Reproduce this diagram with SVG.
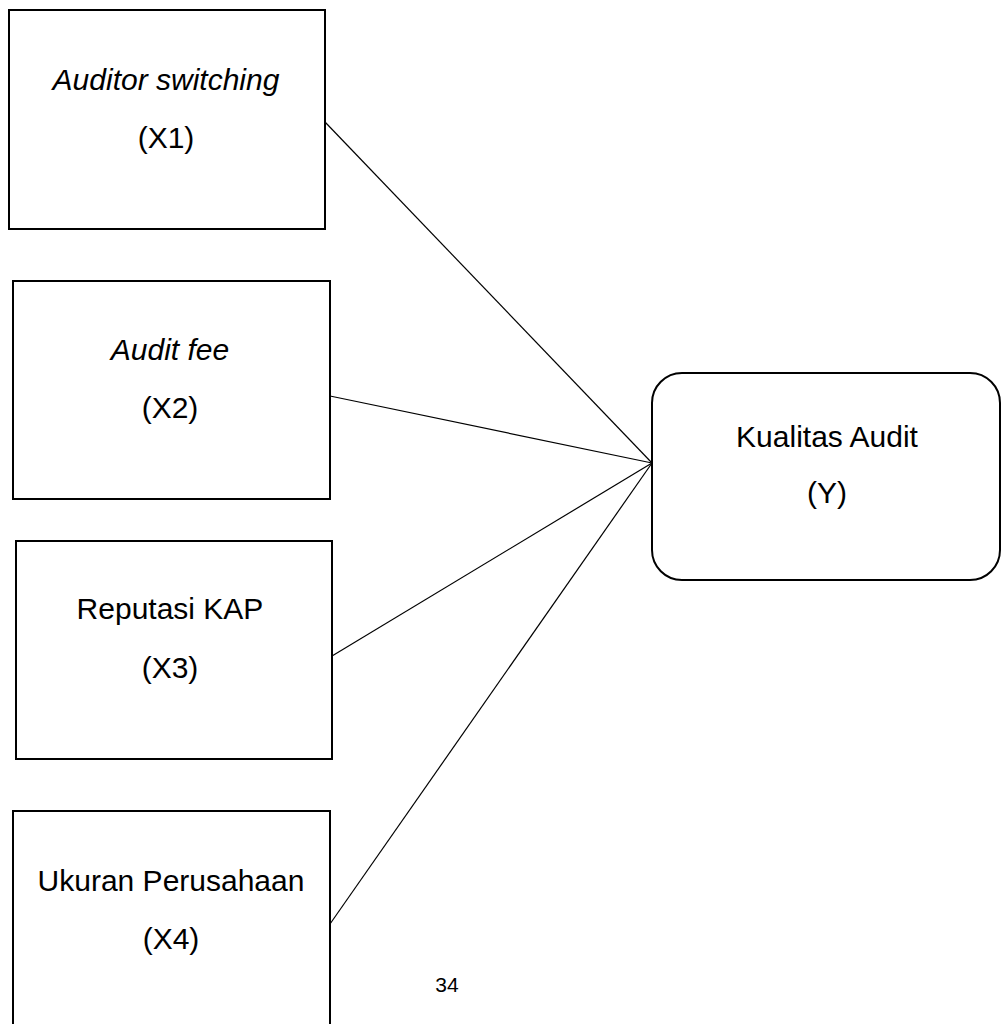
<svg xmlns="http://www.w3.org/2000/svg" width="1002" height="1024" viewBox="0 0 1002 1024">
<style>
.box{fill:#fff;stroke:#000;stroke-width:2}
.t{font-family:"Liberation Sans",Arial,sans-serif;font-size:30px;fill:#000;text-anchor:middle}
.i{font-style:italic}
.c{stroke:#000;stroke-width:1.2;fill:none}
</style>
<rect width="1002" height="1024" fill="#fff"/>
<g id="connectors">
<line class="c" x1="325" y1="122" x2="652" y2="463"/>
<line class="c" x1="330" y1="396" x2="652" y2="463"/>
<line class="c" x1="332" y1="656" x2="652" y2="463"/>
<line class="c" x1="330" y1="924" x2="652" y2="463"/>
</g>
<g id="x1">
<rect class="box" x="9" y="10" width="316" height="219"/>
<text class="t i" x="166" y="90">Auditor switching</text>
<text class="t" x="166" y="148">(X1)</text>
</g>
<g id="x2">
<rect class="box" x="13" y="281" width="317" height="218"/>
<text class="t i" x="170" y="360">Audit fee</text>
<text class="t" x="170" y="418">(X2)</text>
</g>
<g id="x3">
<rect class="box" x="16" y="541" width="316" height="218"/>
<text class="t" x="170" y="619">Reputasi KAP</text>
<text class="t" x="170" y="678">(X3)</text>
</g>
<g id="x4">
<rect class="box" x="13" y="811" width="317" height="225"/>
<text class="t" x="171" y="891">Ukuran Perusahaan</text>
<text class="t" x="171" y="949">(X4)</text>
</g>
<g id="y">
<rect class="box" x="652" y="373" width="348" height="207" rx="30" ry="30"/>
<text class="t" x="827" y="447">Kualitas Audit</text>
<text class="t" x="827" y="503">(Y)</text>
</g>
<text x="447" y="992" style="font-family:'Liberation Sans',Arial,sans-serif;font-size:21px;text-anchor:middle">34</text>
</svg>
